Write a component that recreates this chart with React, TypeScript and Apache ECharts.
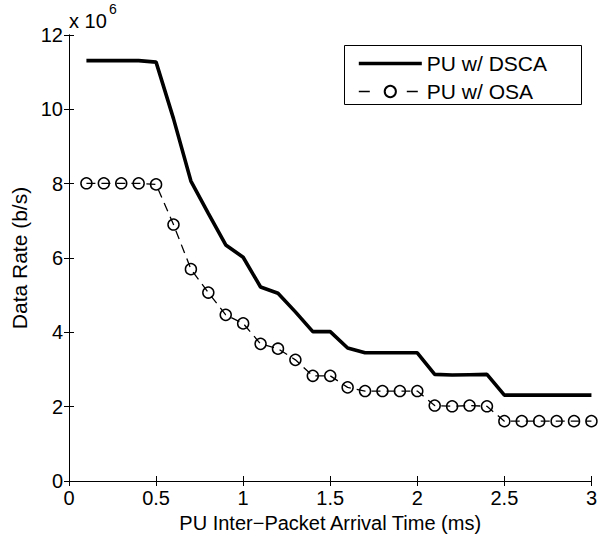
import React, { useEffect, useRef } from "react";
import * as echarts from "echarts";

const xValues = [
  0.1, 0.2, 0.3, 0.4, 0.5, 0.6, 0.7, 0.8, 0.9, 1.0,
  1.1, 1.2, 1.3, 1.4, 1.5, 1.6, 1.7, 1.8, 1.9, 2.0,
  2.1, 2.2, 2.3, 2.4, 2.5, 2.6, 2.7, 2.8, 2.9, 3.0,
];

const dscaRate = [
  11.31e6, 11.31e6, 11.31e6, 11.31e6, 11.27e6, 9.75e6, 8.07e6, 7.2e6, 6.35e6, 6.02e6,
  5.22e6, 5.05e6, 4.55e6, 4.02e6, 4.02e6, 3.58e6, 3.45e6, 3.45e6, 3.45e6, 3.45e6,
  2.87e6, 2.85e6, 2.86e6, 2.87e6, 2.31e6, 2.31e6, 2.31e6, 2.31e6, 2.31e6, 2.31e6,
];

const osaRate = [
  8.01e6, 8.01e6, 8.01e6, 8.01e6, 7.98e6, 6.9e6, 5.7e6, 5.07e6, 4.47e6, 4.24e6,
  3.69e6, 3.56e6, 3.26e6, 2.83e6, 2.83e6, 2.52e6, 2.42e6, 2.42e6, 2.42e6, 2.42e6,
  2.03e6, 2.01e6, 2.03e6, 2.01e6, 1.61e6, 1.61e6, 1.61e6, 1.61e6, 1.61e6, 1.61e6,
];

const seriesNames = ["PU w/ DSCA", "PU w/ OSA"];
const xAxisTitle = "PU Inter\u2212Packet Arrival Time (ms)";
const yAxisTitle = "Data Rate (b/s)";

const FONT = "'Liberation Sans', Arial, Helvetica, sans-serif";
const FS = 20;

export default function App() {
  const ref = useRef<HTMLDivElement>(null);

  useEffect(() => {
    if (!ref.current) return;
    const chart = echarts.init(ref.current, null, { renderer: "svg" });

    const axisCommon = {
      axisLine: { show: true, lineStyle: { color: "#000", width: 1 } },
      axisTick: { show: true, inside: true, length: 5, lineStyle: { color: "#000", width: 1 } },
      splitLine: { show: false },
    };

    chart.setOption({
      animation: false,
      backgroundColor: "#fff",
      textStyle: { fontFamily: FONT },
      grid: { left: 69, top: 35, width: 523, height: 446, containLabel: false },
      xAxis: [
        {
          type: "value",
          min: 0,
          max: 3,
          interval: 0.5,
          position: "bottom",
          ...axisCommon,
          axisLabel: { color: "#000", fontSize: FS, fontFamily: FONT, margin: 7 },
          name: xAxisTitle,
          nameLocation: "middle",
          nameGap: 31,
          nameTextStyle: { color: "#000", fontSize: FS, fontFamily: FONT },
        },
        {
          type: "value",
          min: 0,
          max: 3,
          interval: 0.5,
          position: "top",
          ...axisCommon,
          axisLabel: { show: false },
        },
      ],
      yAxis: [
        {
          type: "value",
          min: 0,
          max: 12e6,
          interval: 2e6,
          position: "left",
          ...axisCommon,
          axisLabel: {
            color: "#000",
            fontSize: FS,
            fontFamily: FONT,
            margin: 6,
            formatter: (v: number) => String(Math.round(v / 1e6)),
          },
          name: yAxisTitle,
          nameLocation: "middle",
          nameGap: 38,
          nameTextStyle: { color: "#000", fontSize: FS + 1, fontFamily: FONT },
        },
        {
          type: "value",
          min: 0,
          max: 12e6,
          interval: 2e6,
          position: "right",
          ...axisCommon,
          axisLabel: { show: false },
        },
      ],
      legend: {
        show: true,
        orient: "vertical",
        left: 357,
        top: 53,
        z: 10,
        itemWidth: 63,
        itemHeight: 14,
        itemGap: 7,
        padding: 0,
        textStyle: { color: "#000", fontSize: FS + 1, fontFamily: FONT },
        data: [
          {
            name: seriesNames[0],
            itemStyle: { opacity: 0 },
            lineStyle: { width: 3.6, color: "#000", type: "solid" },
          },
          {
            name: seriesNames[1],
            lineStyle: { width: 1.3, color: "#000", type: [11, 37] },
          },
        ],
      },
      graphic: [
        {
          type: "rect",
          z: 5,
          shape: { x: 344.5, y: 45.5, width: 237, height: 59 },
          style: { fill: "#fff", stroke: "#000", lineWidth: 1 },
        },
        {
          type: "text",
          z: 5,
          style: {
            text: "x 10",
            x: 69,
            y: 21,
            verticalAlign: "middle",
            fill: "#000",
            font: `${FS}px ${FONT}`,
          },
        },
        {
          type: "text",
          z: 5,
          style: {
            text: "6",
            x: 109,
            y: 9,
            verticalAlign: "middle",
            fill: "#000",
            font: `14px ${FONT}`,
          },
        },
      ],
      series: [
        {
          name: seriesNames[0],
          type: "line",
          xAxisIndex: 0,
          yAxisIndex: 0,
          data: xValues.map((x, i) => [x, dscaRate[i]]),
          symbol: "none",
          showSymbol: false,
          lineStyle: { color: "#000", width: 3.6, type: "solid" },
          itemStyle: { color: "#000" },
        },
        {
          name: seriesNames[1],
          type: "line",
          xAxisIndex: 0,
          yAxisIndex: 0,
          data: xValues.map((x, i) => [x, osaRate[i]]),
          symbol: "circle",
          symbolSize: 11,
          showSymbol: true,
          lineStyle: { color: "#000", width: 1.3, type: [9, 6] },
          itemStyle: { color: "rgba(0,0,0,0)", borderColor: "#000", borderWidth: 1.5 },
        },
      ],
    });

    return () => chart.dispose();
  }, []);

  return (
    <div
      ref={ref}
      style={{ position: "fixed", left: 0, top: 0, width: 600, height: 539, background: "#fff" }}
    />
  );
}
